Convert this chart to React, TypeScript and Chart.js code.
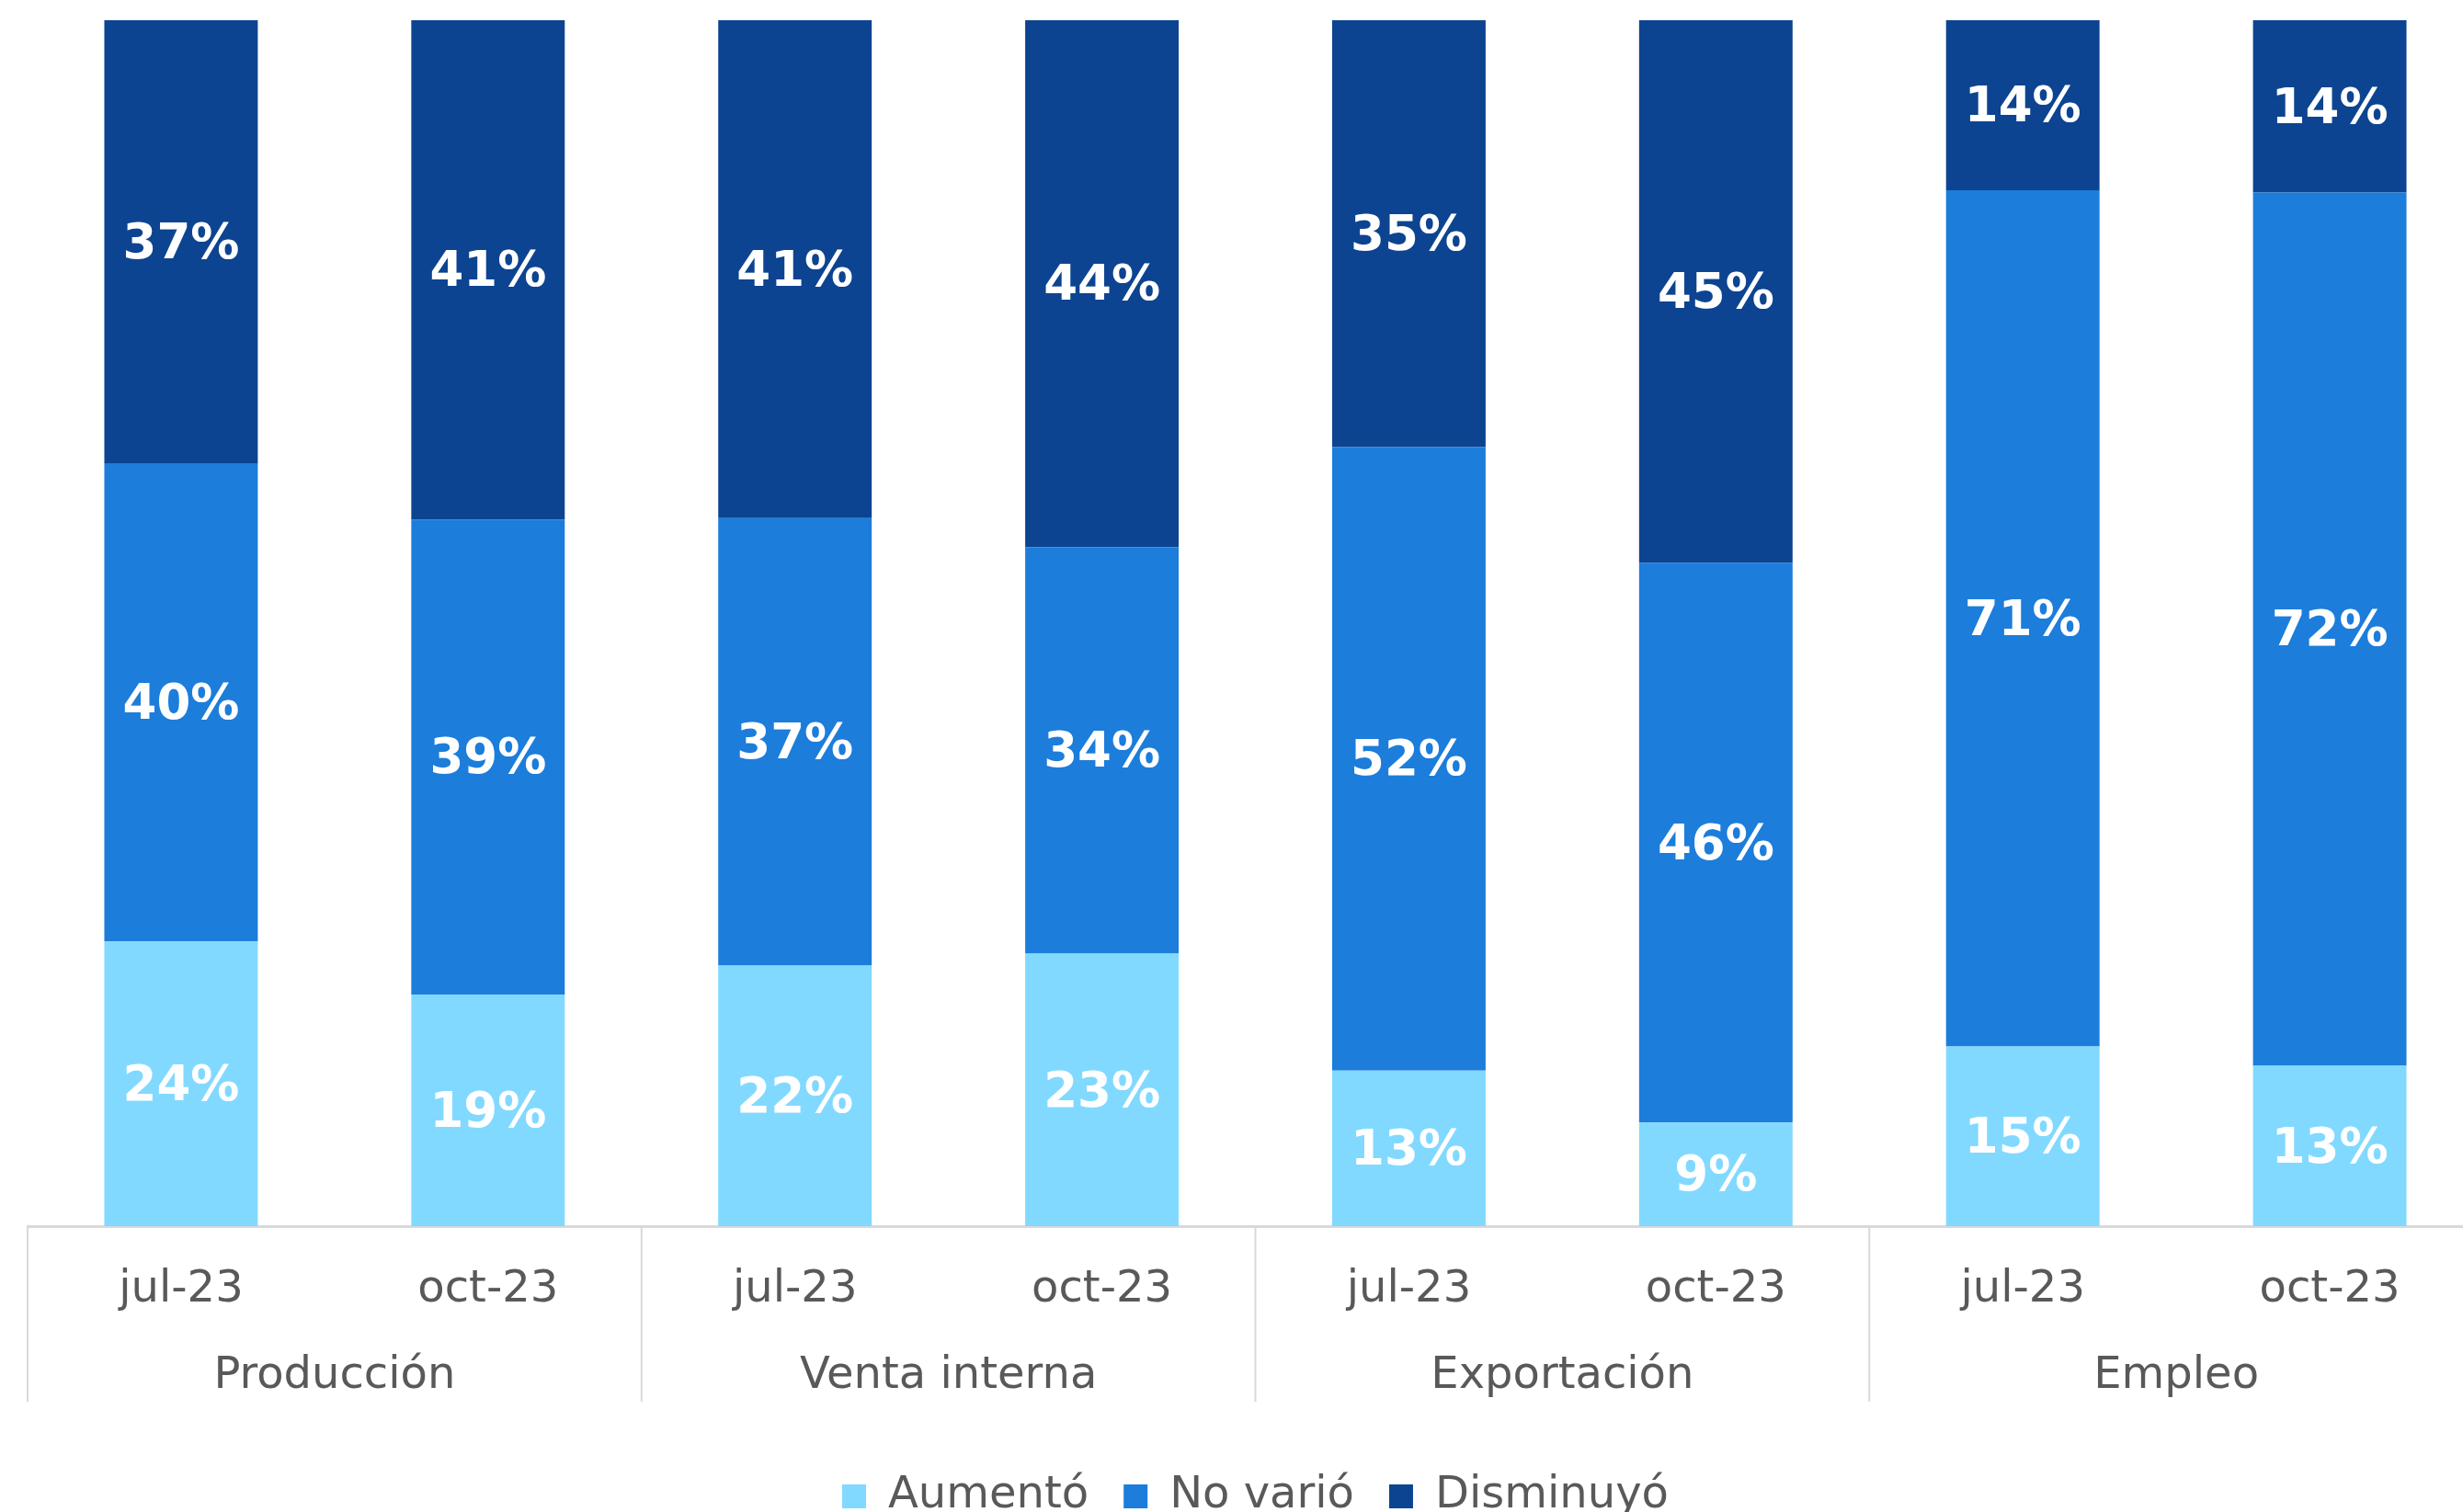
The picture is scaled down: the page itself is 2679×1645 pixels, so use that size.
import React, { useEffect, useRef } from 'react';
import { Chart, registerables } from 'chart.js';

Chart.register(...registerables);

// ---- data ----
const groups = ['Producción', 'Venta interna', 'Exportación', 'Empleo'];
const periodsPerGroup = 2;
const tickLabels = ['jul-23', 'oct-23', 'jul-23', 'oct-23', 'jul-23', 'oct-23', 'jul-23', 'oct-23'];
const seriesNames = ['Aumentó', 'No varió', 'Disminuyó'];
const aumento = [23.6, 19.2, 21.6, 22.6, 12.9, 8.6, 14.9, 13.3];
const noVario = [39.6, 39.4, 37.1, 33.7, 51.7, 46.4, 71.0, 72.4];
const disminuyo = [36.8, 41.4, 41.3, 43.7, 35.4, 45.0, 14.1, 14.3];
const seriesColors = ['#82D9FF', '#1C7DDB', '#0D4491'];

const FONT = "'DejaVu Sans', Verdana, sans-serif";
const GREY = '#595959';
const LINE = '#d9d9d9';

const CANVAS_W = 2748;
const CANVAS_H = 1700;

const segmentLabels = {
  id: 'segmentLabels',
  afterDatasetsDraw(chart: any) {
    const ctx = chart.ctx;
    ctx.save();
    ctx.font = `bold 53px ${FONT}`;
    ctx.fillStyle = '#ffffff';
    ctx.textAlign = 'center';
    ctx.textBaseline = 'middle';
    chart.data.datasets.forEach((ds: any, i: number) => {
      const meta = chart.getDatasetMeta(i);
      meta.data.forEach((el: any, j: number) => {
        const v = ds.data[j];
        const p = el.getProps(['x', 'y', 'base'], true);
        ctx.fillText(`${Math.round(v)}%`, p.x, (p.y + p.base) / 2 + 4);
      });
    });
    ctx.restore();
  },
};

const groupAxis = {
  id: 'groupAxis',
  afterDraw(chart: any) {
    const x = chart.scales.x;
    const { ctx, chartArea } = chart;
    const half = (x.getPixelForValue(1) - x.getPixelForValue(0)) / 2;
    const bottom = chartArea.bottom;
    ctx.save();
    ctx.strokeStyle = LINE;
    ctx.lineWidth = 2;
    ctx.fillStyle = GREY;
    ctx.font = `48px ${FONT}`;
    ctx.textAlign = 'center';
    ctx.textBaseline = 'middle';
    groups.forEach((g, gi) => {
      const first = gi * periodsPerGroup;
      const last = first + periodsPerGroup - 1;
      const left = x.getPixelForValue(first) - half;
      const right = x.getPixelForValue(last) + half;
      ctx.beginPath();
      ctx.moveTo(left, bottom);
      ctx.lineTo(left, bottom + 191);
      ctx.stroke();
      if (gi === groups.length - 1) {
        ctx.beginPath();
        ctx.moveTo(right, bottom);
        ctx.lineTo(right, bottom + 191);
        ctx.stroke();
      }
      ctx.fillText(g, (left + right) / 2, bottom + 164);
    });
    ctx.restore();
  },
};

export default function App() {
  const ref = useRef<HTMLCanvasElement | null>(null);

  useEffect(() => {
    document.body.style.overflow = 'hidden';
    document.documentElement.style.overflow = 'hidden';
    const canvas = ref.current;
    if (!canvas) return;
    const seriesData = [aumento, noVario, disminuyo];
    const chart = new Chart(canvas, {
      type: 'bar',
      data: {
        labels: tickLabels,
        datasets: seriesNames.map((name, i) => ({
          label: name,
          data: seriesData[i],
          backgroundColor: seriesColors[i],
          borderWidth: 0,
          barPercentage: 0.5,
          categoryPercentage: 1,
        })),
      },
      options: {
        responsive: false,
        animation: false,
        devicePixelRatio: 1,
        layout: { padding: { top: 22, left: 30, right: 47, bottom: 38 } },
        scales: {
          x: {
            stacked: true,
            grid: { display: false, drawTicks: false },
            border: { display: true, color: LINE, width: 3 },
            ticks: {
              color: GREY,
              font: { family: FONT, size: 48 },
              padding: 41,
              maxRotation: 0,
              autoSkip: false,
            },
            afterFit: (s: any) => {
              s.height = 232;
            },
          },
          y: {
            stacked: true,
            display: false,
            min: 0,
            max: 100,
          },
        },
        plugins: {
          legend: {
            position: 'bottom',
            labels: {
              color: GREY,
              font: { family: FONT, size: 48 },
              boxWidth: 26,
              boxHeight: 26,
              padding: 38,
            },
          },
          tooltip: { enabled: false },
        },
      },
      plugins: [segmentLabels, groupAxis],
    } as any);
    return () => chart.destroy();
  }, []);

  return (
    <div style={{ position: 'fixed', left: 0, top: 0, width: CANVAS_W, height: CANVAS_H }}>
      <canvas ref={ref} width={CANVAS_W} height={CANVAS_H} />
    </div>
  );
}
